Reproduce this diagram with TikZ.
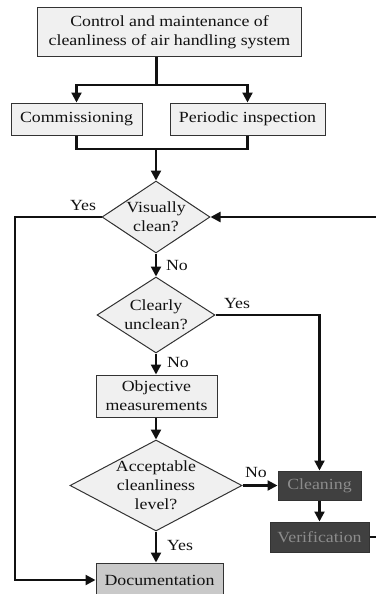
\documentclass[tikz,border=0pt]{standalone}
\usepackage{fontspec}
\setmainfont{Liberation Serif}[FakeStretch=1.15]
\usetikzlibrary{arrows.meta,positioning,shapes.geometric,calc}
\definecolor{InkLine}{HTML}{111111}
\definecolor{PaleBox}{HTML}{F0F0F0}
\definecolor{BoxEdge}{HTML}{333333}
\definecolor{DarkBox}{HTML}{404040}
\definecolor{DarkText}{HTML}{8C8C8C}
\definecolor{DocGray}{HTML}{C9C9C9}

\begin{document}
\begin{tikzpicture}[x=1pt, y=-1pt,
  every node/.style={font=\fontsize{15.5}{19}\selectfont, text=InkLine},
  stepbox/.style={draw=BoxEdge, fill=PaleBox, line width=1pt, align=center, inner sep=0pt},
  decision/.style={diamond, draw=BoxEdge, fill=PaleBox, line width=1pt, align=center, inner sep=-14pt},
  darkbox/.style={stepbox, fill=DarkBox, text=DarkText},
  flow/.style={draw=InkLine, line width=2.2pt},
  arrow/.style={flow, -{Triangle[length=10pt,width=10pt]}},
  tag/.style={inner sep=0pt}]
\useasboundingbox (0,0) rectangle (375,594);
% boxes
\node[stepbox, minimum width=264pt, minimum height=49pt] (top) at (169.5,32.5) {Control and maintenance of\\cleanliness of air handling system};
\node[stepbox, minimum width=131pt, minimum height=32pt] (comm) at (76.5,119) {Commissioning};
\node[stepbox, minimum width=155pt, minimum height=32pt] (periodic) at (247.5,119) {Periodic inspection};
\node[decision, minimum width=108pt, minimum height=72pt] (vis) at (156,217) {Visually\\clean?};
\node[decision, minimum width=118pt, minimum height=76pt] (clear) at (156,315) {Clearly\\unclean?};
\node[stepbox, minimum width=121pt, minimum height=42pt] (obj) at (156.5,396) {Objective\\measurements};
\node[decision, minimum width=172pt, minimum height=91pt] (accept) at (156,485.5) {Acceptable\\cleanliness\\level?};
\node[darkbox, minimum width=83pt, minimum height=29pt] (clean) at (319.5,485.5) {Cleaning};
\node[darkbox, minimum width=99pt, minimum height=30pt] (verif) at (319.5,537) {Verification};
\node[stepbox, fill=DocGray, minimum width=127pt, minimum height=34pt] (doc) at (159.5,580) {Documentation};
% helper points
\coordinate (split) at (156,85);
\coordinate (merge) at (156,149);
\coordinate (rail) at (15,0);
\coordinate (back) at (380,0);
% connectors
\draw[flow, line width=3pt] (split |- top.south) -- (split);
\draw[arrow] (split) -| (comm.north);
\draw[arrow] (split) -| (periodic.north);
\draw[flow] (comm.south) -- (comm.south |- merge) -- (periodic.south |- merge) -- (periodic.south);
\draw[arrow] (merge) -- (vis.north);
\draw[arrow] (vis.west) -- (vis.west -| rail) |- (doc.west);
\draw[arrow] (vis.south) -- (clear.north);
\draw[arrow] (clear.east) -| (clean.north);
\draw[arrow] (clear.south) -- (clear.south |- obj.north);
\draw[arrow] (obj.south -| accept.north) -- (accept.north);
\draw[arrow] (accept.east) -- (clean.west);
\draw[arrow] (accept.south) -- (accept.south |- doc.north);
\draw[arrow] (clean.south) -- (clean.south |- verif.north);
\draw[flow, line width=1.2pt] (verif.east) -- (verif.east -| back);
\draw[arrow] (verif.east -| back) |- (vis.east);
% labels
\node[tag] (yesvis) at (83,205) {Yes};
\node[tag] (novis) at (177,265) {No};
\node[tag] (yesclear) at (237,303) {Yes};
\node[tag] (noclear) at (178,362) {No};
\node[tag] (noaccept) at (256,472) {No};
\node[tag] (yesaccept) at (180,545) {Yes};
\end{tikzpicture}
\end{document}
